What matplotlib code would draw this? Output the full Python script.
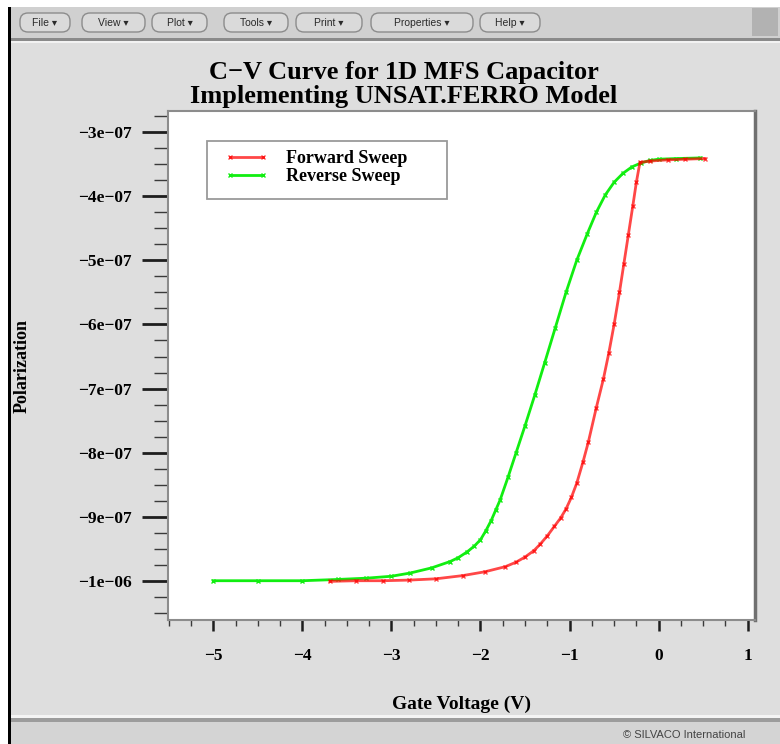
import numpy as np
import matplotlib
matplotlib.use('Agg')
import matplotlib.pyplot as plt
from matplotlib.patches import Rectangle, FancyBboxPatch
from matplotlib.ticker import MultipleLocator

# text
title_lines = ["C\u2212V Curve for 1D MFS Capacitor", "Implementing UNSAT.FERRO Model"]
menu_items = ["File", "View", "Plot", "Tools", "Print", "Properties", "Help"]
x_label = "Gate Voltage (V)"
y_label = "Polarization"
series_names = ["Forward Sweep", "Reverse Sweep"]
status_text = "\u00a9 SILVACO International"

# forward sweep (red), polarization in units of 1e-7
forward_v = [-3.69, -3.4, -3.1, -2.8, -2.5, -2.2, -1.95, -1.72, -1.6, -1.5,
             -1.4, -1.33, -1.25, -1.17, -1.1, -1.04, -0.98, -0.92, -0.85, -0.79,
             -0.70, -0.62, -0.56, -0.50, -0.44, -0.39, -0.34, -0.29, -0.25, -0.21,
             -0.1, 0.1, 0.3, 0.52]
forward_p = [-10.01, -10.00, -10.00, -9.99, -9.97, -9.92, -9.86, -9.78, -9.71, -9.63,
             -9.53, -9.43, -9.30, -9.15, -9.02, -8.88, -8.70, -8.48, -8.15, -7.84,
             -7.30, -6.85, -6.45, -6.00, -5.50, -5.05, -4.60, -4.15, -3.78, -3.47,
             -3.45, -3.43, -3.42, -3.41]

# reverse sweep (green), polarization in units of 1e-7
reverse_v = [-5.0, -4.5, -4.0, -3.6, -3.28, -3.0, -2.79, -2.55, -2.34, -2.25,
             -2.15, -2.07, -2.0, -1.94, -1.88, -1.83, -1.78, -1.69, -1.60, -1.50,
             -1.39, -1.28, -1.16, -1.04, -0.92, -0.80, -0.70, -0.60, -0.50, -0.40,
             -0.30, -0.20, -0.10, 0.0, 0.2, 0.47]
reverse_p = [-10.00, -10.00, -10.00, -9.98, -9.96, -9.93, -9.88, -9.80, -9.70, -9.64,
             -9.55, -9.46, -9.36, -9.22, -9.06, -8.90, -8.74, -8.38, -8.00, -7.58,
             -7.10, -6.60, -6.05, -5.50, -5.00, -4.58, -4.25, -3.98, -3.78, -3.64,
             -3.54, -3.48, -3.44, -3.42, -3.41, -3.40]

x_ticks = [-5, -4, -3, -2, -1, 0, 1]
x_tick_labels = ["\u22125", "\u22124", "\u22123", "\u22122", "\u22121", "0", "1"]
y_ticks = [-3e-07, -4e-07, -5e-07, -6e-07, -7e-07, -8e-07, -9e-07, -1e-06]
y_tick_labels = ["\u22123e\u221207", "\u22124e\u221207", "\u22125e\u221207", "\u22126e\u221207",
                 "\u22127e\u221207", "\u22128e\u221207", "\u22129e\u221207", "\u22121e\u221206"]

SERIF = 'Liberation Serif'
SANS = ['Liberation Sans', 'DejaVu Sans']
W, H = 780, 744


def draw_window(fig):
    bg = fig.add_axes([0, 0, 1, 1])
    bg.set_xlim(0, W)
    bg.set_ylim(H, 0)
    bg.axis('off')
    bg.set_zorder(-1)
    bg.add_patch(Rectangle((0, 0), W, H, fc='white', ec='none'))
    bg.add_patch(Rectangle((10, 7), W - 10, 31, fc='#d0d0d0', ec='none'))
    bg.add_patch(Rectangle((752, 8), 26, 28, fc='#b2b2b2', ec='none'))
    bg.add_patch(Rectangle((10, 38), W - 10, 3, fc='#8a8a8a', ec='none'))
    bg.add_patch(Rectangle((10, 41), W - 10, 2, fc='#f2f2f2', ec='none'))
    bg.add_patch(Rectangle((10, 43), W - 10, 672, fc='#dedede', ec='none'))
    bg.add_patch(Rectangle((10, 715), W - 10, 3, fc='#f4f4f4', ec='none'))
    bg.add_patch(Rectangle((10, 718), W - 10, 4, fc='#9c9c9c', ec='none'))
    bg.add_patch(Rectangle((10, 722), W - 10, 22, fc='#d4d4d4', ec='none'))
    bg.add_patch(Rectangle((8, 7), 2.5, H - 7, fc='black', ec='none'))

    spans = [(20, 70), (82, 145), (152, 207), (224, 288), (296, 362), (371, 473), (480, 540)]
    for name, (x0, x1) in zip(menu_items, spans):
        bg.add_patch(FancyBboxPatch((x0, 13), x1 - x0, 19,
                                    boxstyle='round,pad=0,rounding_size=8',
                                    fc='#dadada', ec='#8c8c8c', lw=1))
        bg.text((x0 + x1) / 2, 22.5, name + " \u25be", ha='center', va='center',
                fontsize=7.5, color='#2a2a2a', family=SANS)

    bg.text(623, 735, status_text, ha='left', va='center', fontsize=8,
            color='#444444', family=SANS)


def main():
    fig = plt.figure(figsize=(W / 100, H / 100), dpi=100)
    fig.patch.set_facecolor('white')
    draw_window(fig)

    ax = fig.add_axes([167.7 / W, 1 - 620 / H, (755 - 167.7) / W, (620 - 110.7) / H])
    ax.set_facecolor('white')

    fv = np.array(forward_v)
    fp = np.array(forward_p) * 1e-7
    rv = np.array(reverse_v)
    rp = np.array(reverse_p) * 1e-7

    ax.plot(rv, rp, color='#11ee11', lw=2, marker='x', ms=3.5, mew=1,
            label=series_names[1], zorder=3)
    ax.plot(fv, fp, color='#ff0000', alpha=0.72, lw=2, marker='x', ms=3.5, mew=1,
            label=series_names[0], zorder=4)

    ax.set_xlim(-5.512, 1.082)
    ax.set_ylim(-1.0613e-06, -2.663e-07)

    ax.set_xticks(x_ticks, labels=x_tick_labels)
    ax.set_yticks(y_ticks, labels=y_tick_labels)
    ax.xaxis.set_minor_locator(MultipleLocator(0.25))
    ax.yaxis.set_minor_locator(MultipleLocator(0.25e-07))
    ax.tick_params(axis='x', which='major', direction='out', length=8, width=1.8,
                   color='#1e1e1e', pad=12)
    ax.tick_params(axis='x', which='minor', direction='out', length=4.5, width=1,
                   color='#3a3a3a')
    ax.tick_params(axis='y', which='major', direction='out', length=19, width=2,
                   color='#1e1e1e', pad=7)
    ax.tick_params(axis='y', which='minor', direction='out', length=10, width=1,
                   color='#3a3a3a')
    ax.tick_params(top=False, right=False)
    for lab in ax.get_xticklabels() + ax.get_yticklabels():
        lab.set_family(SERIF)
        lab.set_fontweight('bold')
        lab.set_fontsize(12.5)

    for side in ['top', 'left', 'bottom']:
        ax.spines[side].set_color('#8c8c8c')
        ax.spines[side].set_linewidth(1.5)
    ax.spines['right'].set_color('#707070')
    ax.spines['right'].set_linewidth(2.5)

    # legend box and entries
    ax.add_patch(Rectangle((0.0664, 0.826), 0.4086, 0.115, transform=ax.transAxes,
                           fc='white', ec='#9a9a9a', lw=1.3, zorder=5))
    handles, labels = ax.get_legend_handles_labels()
    leg = ax.legend(handles[::-1], labels[::-1], loc='upper left',
                    bbox_to_anchor=(0.0976, 0.9228), frameon=False, numpoints=2,
                    handlelength=2.4, handletextpad=0.95, labelspacing=0.05,
                    borderpad=0, borderaxespad=0,
                    prop={'family': SERIF, 'weight': 'bold', 'size': 13})
    leg.set_zorder(6)

    fig.text(404 / W, 1 - 73 / H, title_lines[0], ha='center', va='center',
             fontsize=19, fontweight='bold', family=SERIF)
    fig.text(404 / W, 1 - 96 / H, title_lines[1], ha='center', va='center',
             fontsize=19, fontweight='bold', family=SERIF)
    fig.text(461 / W, 1 - 704 / H, x_label, ha='center', va='center',
             fontsize=14, fontweight='bold', family=SERIF)
    fig.text(22 / W, 1 - 366 / H, y_label, ha='center', va='center', rotation=90,
             fontsize=13, fontweight='bold', family=SERIF)

    fig.savefig('out.png', dpi=100)


if __name__ == '__main__':
    main()
